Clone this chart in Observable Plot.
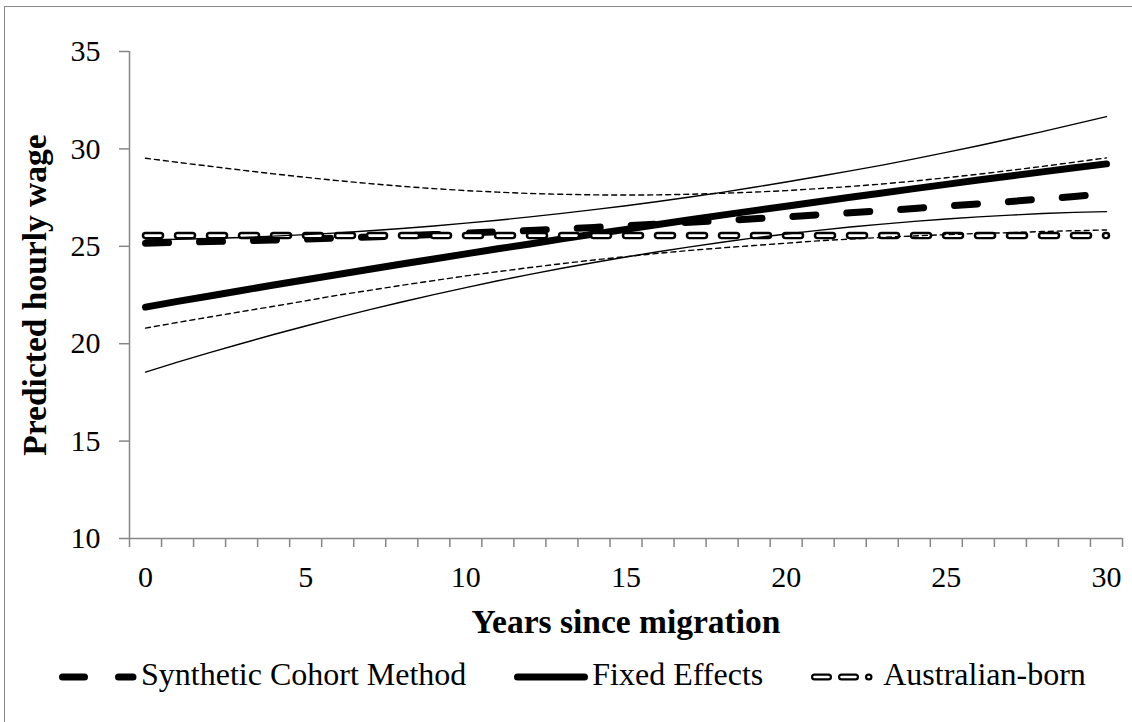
<!DOCTYPE html>
<html><head><meta charset="utf-8">
<script src="https://cdn.jsdelivr.net/npm/d3@7"></script>
<script src="https://cdn.jsdelivr.net/npm/@observablehq/plot@0.6"></script>
<style>
html,body{margin:0;padding:0;background:#fff;overflow:hidden;}
#wrap{position:relative;width:1132px;height:722px;font-family:"Liberation Serif","Times New Roman",serif;background:#fff;}
#frame{position:absolute;left:4px;top:6px;width:1140px;height:730px;border:1.5px solid #898989;box-sizing:border-box;pointer-events:none;}
#chart{position:absolute;left:0;top:0;}
#legend{position:absolute;left:59px;top:657px;display:flex;align-items:flex-start;gap:48px;font-size:32px;line-height:34px;white-space:nowrap;color:#000;}
.item{display:flex;align-items:flex-start;}
.item svg{margin-right:4px;margin-top:12px;}
</style></head>
<body><div id="wrap"><div id="chart"></div><div id="legend"></div><div id="frame"></div></div>
<script>
// ---- data ----
const years = [0,1,2,3,4,5,6,7,8,9,10,11,12,13,14,15,16,17,18,19,20,21,22,23,24,25,26,27,28,29,30];
const scmWage = [25.16,25.20,25.24,25.28,25.32,25.37,25.43,25.48,25.54,25.60,25.67,25.74,25.81,25.89,25.97,26.05,26.14,26.23,26.32,26.41,26.51,26.62,26.72,26.83,26.94,27.06,27.18,27.30,27.43,27.56,27.69];
const scmUpper = [29.52,29.31,29.11,28.91,28.72,28.54,28.37,28.22,28.08,27.96,27.86,27.78,27.71,27.67,27.64,27.63,27.64,27.67,27.72,27.78,27.86,27.96,28.07,28.20,28.35,28.52,28.70,28.90,29.10,29.32,29.54];
const scmLower = [20.80,21.09,21.37,21.65,21.92,22.20,22.49,22.74,23.00,23.24,23.48,23.70,23.91,24.11,24.30,24.47,24.64,24.79,24.92,25.04,25.16,25.28,25.37,25.46,25.53,25.60,25.66,25.70,25.76,25.80,25.84];
const feWage = [21.88,22.17,22.45,22.73,23.01,23.28,23.55,23.82,24.09,24.35,24.61,24.87,25.12,25.38,25.63,25.87,26.12,26.36,26.60,26.83,27.06,27.29,27.52,27.74,27.96,28.18,28.40,28.61,28.82,29.03,29.23];
const feUpper = [25.33,25.36,25.40,25.45,25.52,25.60,25.69,25.80,25.91,26.04,26.19,26.34,26.51,26.69,26.88,27.08,27.30,27.53,27.77,28.03,28.30,28.58,28.87,29.17,29.49,29.82,30.16,30.52,30.89,31.27,31.66];
const feLower = [18.54,19.05,19.54,20.01,20.47,20.91,21.34,21.75,22.14,22.52,22.88,23.23,23.56,23.87,24.17,24.45,24.72,24.97,25.21,25.43,25.63,25.82,25.99,26.14,26.28,26.40,26.51,26.60,26.68,26.74,26.78];
const ausWage = [25.55,25.55,25.55,25.55,25.55,25.55,25.55,25.55,25.55,25.55,25.55,25.55,25.55,25.55,25.55,25.55,25.55,25.55,25.55,25.55,25.55,25.55,25.55,25.55,25.55,25.55,25.55,25.55,25.55,25.55,25.55];
const yTicks = [10,15,20,25,30,35];
const xTicks = [0,5,10,15,20,25,30];
const xTickLabels = ["0","5","10","15","20","25","30"];
const xBounds = [-0.5,0.5,1.5,2.5,3.5,4.5,5.5,6.5,7.5,8.5,9.5,10.5,11.5,12.5,13.5,14.5,15.5,16.5,17.5,18.5,19.5,20.5,21.5,22.5,23.5,24.5,25.5,26.5,27.5,28.5,29.5,30.5];
const seriesNames = ["Synthetic Cohort Method","Fixed Effects","Australian-born"];
const xTitle = "Years since migration";
const yTitle = "Predicted hourly wage";

// ---- chart ----
const AX = "#868686";
const FONT = '"Liberation Serif","Times New Roman",serif';
const chart = Plot.plot({
  width: 1132, height: 660,
  marginLeft: 129, marginRight: 10, marginTop: 51, marginBottom: 122,
  x: {type: "linear", domain: [-0.5, 30.5]},
  y: {type: "linear", domain: [10, 35]},
  style: {fontFamily: FONT, fontSize: "30px", color: "black", background: "transparent", overflow: "visible"},
  marks: [
    Plot.ruleX([-0.5], {stroke: AX, strokeWidth: 1.5}),
    Plot.ruleY([10], {stroke: AX, strokeWidth: 1.5}),
    Plot.axisY(yTicks, {tickSize: 10, tickPadding: 19, stroke: AX, strokeWidth: 1.5, fill: "black", fontSize: 30, label: null}),
    Plot.axisX(xBounds, {tickSize: 9, stroke: AX, strokeWidth: 1.5, tickFormat: () => "", label: null}),
    Plot.axisX(xTicks, {tickSize: 0, tickPadding: 27, fill: "black", fontSize: 30, label: null,
      tickFormat: d => xTickLabels[xTicks.indexOf(d)]}),
    // Fixed effects (thick solid)
    Plot.line(feWage, {x: years, y: feWage, stroke: "black", strokeWidth: 7, strokeLinecap: "round", strokeLinejoin: "round"}),
    // Synthetic cohort (thick dashed)
    Plot.line(scmWage, {x: years, y: scmWage, stroke: "black", strokeWidth: 7, strokeLinecap: "round", strokeDasharray: "23,31"}),
    // Australian-born (double-line dashed)
    Plot.line(ausWage, {x: years, y: ausWage, stroke: "black", strokeWidth: 7.5, strokeLinecap: "round", strokeDasharray: "15,17"}),
    Plot.line(ausWage, {x: years, y: ausWage, stroke: "white", strokeWidth: 2.6, strokeLinecap: "round", strokeDasharray: "15,17"}),
    // confidence bands
    Plot.line(feUpper, {x: years, y: feUpper, stroke: "black", strokeWidth: 1.4}),
    Plot.line(feLower, {x: years, y: feLower, stroke: "black", strokeWidth: 1.4}),
    Plot.line(scmUpper, {x: years, y: scmUpper, stroke: "black", strokeWidth: 1.4, strokeDasharray: "5,4"}),
    Plot.line(scmLower, {x: years, y: scmLower, stroke: "black", strokeWidth: 1.4, strokeDasharray: "5,4"}),
    // axis titles
    Plot.text([xTitle], {text: d => d, frameAnchor: "bottom", textAnchor: "middle", lineAnchor: "bottom", dy: 94, fontWeight: "bold", fontSize: 33.5, fill: "black"}),
    Plot.text([yTitle], {text: d => d, frameAnchor: "left", textAnchor: "middle", lineAnchor: "bottom", rotate: -90, dx: -84, fontWeight: "bold", fontSize: 33.5, fill: "black"})
  ]
});
document.getElementById("chart").appendChild(chart);

// ---- legend ----
const legend = document.getElementById("legend");
const NS = "http://www.w3.org/2000/svg";
function swatch(kind) {
  const svg = document.createElementNS(NS, "svg");
  svg.setAttribute("width", kind === "aus" ? 68 : kind === "fe" ? 74 : 78);
  svg.setAttribute("height", 16);
  const mk = (attrs) => { const p = document.createElementNS(NS, "line"); for (const k in attrs) p.setAttribute(k, attrs[k]); svg.appendChild(p); };
  if (kind === "scm") {
    mk({x1: 3.5, x2: 74, y1: 8, y2: 8, stroke: "black", "stroke-width": 7, "stroke-linecap": "round", "stroke-dasharray": "22,34"});
  } else if (kind === "fe") {
    mk({x1: 3.5, x2: 70.5, y1: 8, y2: 8, stroke: "black", "stroke-width": 7, "stroke-linecap": "round"});
  } else {
    mk({x1: 3.5, x2: 58, y1: 8, y2: 8, stroke: "black", "stroke-width": 7, "stroke-linecap": "round", "stroke-dasharray": "14,13"});
    mk({x1: 3.5, x2: 58, y1: 8, y2: 8, stroke: "white", "stroke-width": 2.6, "stroke-linecap": "round", "stroke-dasharray": "14,13"});
  }
  return svg;
}
const kinds = ["scm","fe","aus"];
seriesNames.forEach((name, i) => {
  const item = document.createElement("div");
  item.className = "item";
  item.appendChild(swatch(kinds[i]));
  const t = document.createElement("span");
  t.textContent = name;
  item.appendChild(t);
  legend.appendChild(item);
});
</script>
</body></html>
